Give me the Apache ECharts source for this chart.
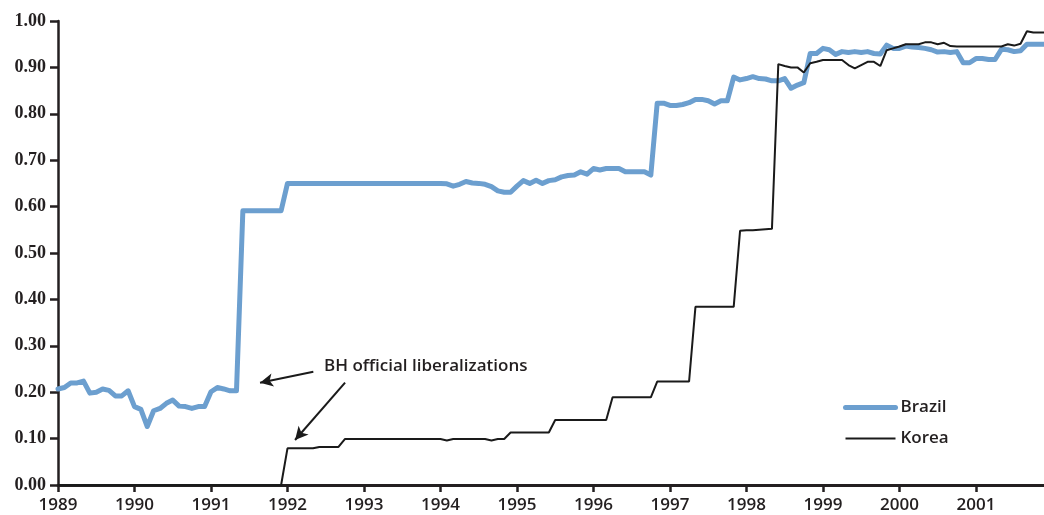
<!DOCTYPE html>
<html>
<head>
<meta charset="utf-8">
<script src="https://cdn.jsdelivr.net/npm/echarts@6/dist/echarts.min.js"></script>
<style>
  html, body { margin: 0; padding: 0; background: #fff; }
  #chart { width: 1044px; height: 515px; }
</style>
</head>
<body>
<div id="chart"></div>
<script>
// monthly values, Jan 1989 .. Dec 2001
const startYear = 1989;
const brazil = [
  0.207, 0.210, 0.220, 0.220, 0.224, 0.198, 0.200, 0.207, 0.204, 0.192, 0.192, 0.203,
  0.169, 0.163, 0.126, 0.160, 0.165, 0.176, 0.183, 0.170, 0.169, 0.165, 0.169, 0.169,
  0.201, 0.210, 0.207, 0.203, 0.203, 0.591, 0.591, 0.591, 0.591, 0.591, 0.591, 0.591,
  0.650, 0.650, 0.650, 0.650, 0.650, 0.650, 0.650, 0.650, 0.650, 0.650, 0.650, 0.650,
  0.650, 0.650, 0.650, 0.650, 0.650, 0.650, 0.650, 0.650, 0.650, 0.650, 0.650, 0.650,
  0.650, 0.649, 0.644, 0.648, 0.654, 0.651, 0.650, 0.648, 0.643, 0.634, 0.631, 0.631,
  0.644, 0.656, 0.650, 0.657, 0.650, 0.656, 0.658, 0.664, 0.667, 0.668, 0.675, 0.670,
  0.682, 0.679, 0.682, 0.682, 0.682, 0.675, 0.675, 0.675, 0.675, 0.668, 0.823, 0.823,
  0.818, 0.818, 0.820, 0.824, 0.831, 0.831, 0.828, 0.821, 0.828, 0.828, 0.879, 0.873,
  0.876, 0.880, 0.876, 0.875, 0.871, 0.871, 0.876, 0.855, 0.862, 0.867, 0.930, 0.930,
  0.941, 0.938, 0.928, 0.934, 0.932, 0.934, 0.932, 0.934, 0.930, 0.929, 0.948, 0.941,
  0.941, 0.946, 0.944, 0.943, 0.941, 0.938, 0.933, 0.934, 0.932, 0.934, 0.910, 0.910,
  0.919, 0.919, 0.917, 0.917, 0.939, 0.938, 0.934, 0.936, 0.950, 0.950, 0.950, 0.950
];
const korea = [
  0, 0, 0, 0, 0, 0, 0, 0, 0, 0, 0, 0,
  0, 0, 0, 0, 0, 0, 0, 0, 0, 0, 0, 0,
  0, 0, 0, 0, 0, 0, 0, 0, 0, 0, 0, 0,
  0.079, 0.079, 0.079, 0.079, 0.079, 0.082, 0.082, 0.082, 0.082, 0.099, 0.099, 0.099,
  0.099, 0.099, 0.099, 0.099, 0.099, 0.099, 0.099, 0.099, 0.099, 0.099, 0.099, 0.099,
  0.099, 0.096, 0.099, 0.099, 0.099, 0.099, 0.099, 0.099, 0.096, 0.099, 0.099, 0.113,
  0.113, 0.113, 0.113, 0.113, 0.113, 0.113, 0.140, 0.140, 0.140, 0.140, 0.140, 0.140,
  0.140, 0.140, 0.140, 0.189, 0.189, 0.189, 0.189, 0.189, 0.189, 0.189, 0.223, 0.223,
  0.223, 0.223, 0.223, 0.223, 0.384, 0.384, 0.384, 0.384, 0.384, 0.384, 0.384, 0.548,
  0.549, 0.549, 0.550, 0.551, 0.552, 0.907, 0.903, 0.900, 0.900, 0.889, 0.909, 0.912,
  0.916, 0.916, 0.916, 0.916, 0.905, 0.898, 0.905, 0.912, 0.912, 0.903, 0.937, 0.941,
  0.945, 0.950, 0.950, 0.950, 0.954, 0.954, 0.950, 0.953, 0.946, 0.945, 0.945, 0.945,
  0.945, 0.945, 0.945, 0.945, 0.945, 0.950, 0.947, 0.951, 0.978, 0.975, 0.975, 0.975
];
const seriesNames = ['Brazil', 'Korea'];
const noteText = 'BH official liberalizations';
// arrows: [tail, head] in [year, value]
const arrows = [
  [[1992.338, 0.244], [1991.641, 0.2205]],
  [[1992.753, 0.2205], [1992.099, 0.097]]
];

function toPoints(values) {
  return values.map(function (v, i) {
    return [startYear + i / 12, v];
  });
}

const chart = echarts.init(document.getElementById('chart'));

const option = {
  animation: false,
  backgroundColor: '#fff',
  grid: { left: 58, right: 0, top: 21, bottom: 30 },
  legend: {
    orient: 'vertical',
    left: 838,
    top: 394,
    itemWidth: 50,
    itemHeight: 14,
    itemGap: 14,
    data: [{
      name: seriesNames[0],
      itemStyle: { opacity: 0 },
      lineStyle: { width: 5, cap: 'round', color: '#6c9fcf' }
    }, {
      name: seriesNames[1],
      itemStyle: { opacity: 0 },
      lineStyle: { width: 2, color: '#1a1a1a' }
    }],
    textStyle: {
      fontFamily: 'Open Sans',
      fontWeight: 600,
      fontSize: 17,
      color: '#231f20'
    }
  },
  graphic: [{
    type: 'text',
    left: 324,
    top: 358,
    style: {
      text: noteText,
      fontFamily: 'Open Sans',
      fontWeight: 600,
      fontSize: 17,
      fill: '#231f20'
    }
  }],
  xAxis: {
    type: 'value',
    min: 1989,
    max: 2001.89,
    interval: 1,
    splitLine: { show: false },
    axisLine: { lineStyle: { color: '#231f20', width: 3 } },
    axisTick: { length: 7, lineStyle: { color: '#231f20', width: 2.5 } },
    axisLabel: {
      margin: 12,
      showMaxLabel: false,
      fontFamily: 'Open Sans',
      fontWeight: 600,
      fontSize: 17,
      color: '#231f20',
      formatter: function (v) {
        return Number.isInteger(v) ? String(v) : '';
      }
    }
  },
  yAxis: {
    type: 'value',
    min: 0,
    max: 1,
    interval: 0.1,
    splitLine: { show: false },
    axisLine: { show: true, lineStyle: { color: '#231f20', width: 2.5 } },
    axisTick: { show: true, length: 8, lineStyle: { color: '#231f20', width: 2.5 } },
    axisLabel: {
      margin: 12,
      fontFamily: 'Liberation Serif',
      fontWeight: 'bold',
      fontSize: 18,
      color: '#231f20',
      formatter: function (v) { return v.toFixed(2); }
    }
  },
  series: [{
    name: seriesNames[0],
    type: 'line',
    data: toPoints(brazil),
    showSymbol: false,
    symbol: 'none',
    lineStyle: { color: '#6c9fcf', width: 5, join: 'round', cap: 'round' },
    itemStyle: { color: '#6c9fcf' }
  }, {
    name: seriesNames[1],
    type: 'line',
    data: toPoints(korea),
    showSymbol: false,
    symbol: 'none',
    lineStyle: { color: '#1a1a1a', width: 2 },
    itemStyle: { color: '#1a1a1a' },
    markLine: {
      silent: true,
      symbol: ['none', 'arrow'],
      symbolSize: [10, 13],
      label: { show: false },
      lineStyle: { color: '#1a1a1a', width: 2, type: 'solid' },
      data: arrows.map(function (a) {
        return [{ coord: a[0] }, { coord: a[1] }];
      })
    }
  }]
};

chart.setOption(option);
</script>
</body>
</html>
